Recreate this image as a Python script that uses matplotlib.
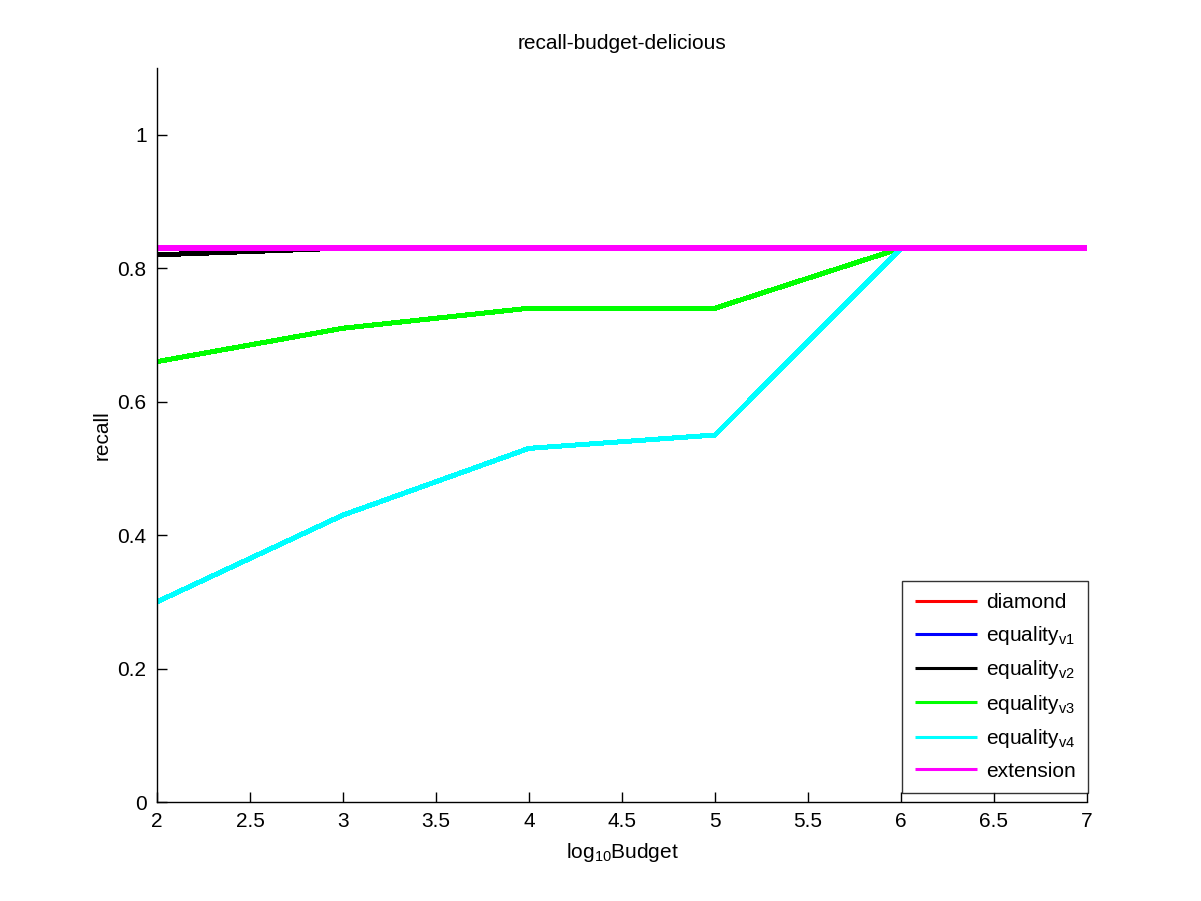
import matplotlib
matplotlib.use("Agg")
import matplotlib.pyplot as plt

plt.rcParams['font.family'] = ['Liberation Sans', 'DejaVu Sans']
plt.rcParams['mathtext.fontset'] = 'custom'
plt.rcParams['mathtext.rm'] = 'Liberation Sans'

x = [2, 3, 4, 5, 6, 7]
diamond = [0.83, 0.83, 0.83, 0.83, 0.83, 0.83]
equality_v1 = [0.83, 0.83, 0.83, 0.83, 0.83, 0.83]
equality_v2 = [0.82, 0.83, 0.83, 0.83, 0.83, 0.83]
equality_v3 = [0.66, 0.71, 0.74, 0.74, 0.83, 0.83]
equality_v4 = [0.30, 0.43, 0.53, 0.55, 0.83, 0.83]
extension = [0.83, 0.83, 0.83, 0.83, 0.83, 0.83]

series = [
    (diamond, 'diamond', '#ff0000'),
    (equality_v1, r'equality$\mathregular{_{v1}}$', '#0000ff'),
    (equality_v2, r'equality$\mathregular{_{v2}}$', '#000000'),
    (equality_v3, r'equality$\mathregular{_{v3}}$', '#00ff00'),
    (equality_v4, r'equality$\mathregular{_{v4}}$', '#00ffff'),
    (extension, 'extension', '#ff00ff'),
]

xticks = [2, 2.5, 3, 3.5, 4, 4.5, 5, 5.5, 6, 6.5, 7]
xticklabels = ['2', '2.5', '3', '3.5', '4', '4.5', '5', '5.5', '6', '6.5', '7']
yticks = [0, 0.2, 0.4, 0.6, 0.8, 1]
yticklabels = ['0', '0.2', '0.4', '0.6', '0.8', '1']

FS = 15

fig = plt.figure(figsize=(12.01, 9.01), dpi=100)
ax = fig.add_axes([157/1201, (901-802)/901, (1087-157)/1201, (802-68)/901])

for vals, lab, col in series:
    ax.plot(x, vals, color=col, lw=2.9, label=lab, solid_capstyle='butt',
            antialiased=False)

ax.set_xlim(2, 7)
ax.set_ylim(0, 1.1)
ax.set_xticks(xticks)
ax.set_xticklabels(xticklabels)
ax.set_yticks(yticks)
ax.set_yticklabels(yticklabels)
ax.tick_params(direction='in', length=7, width=1, labelsize=FS, pad=7.5)
ax.spines['top'].set_visible(False)
ax.spines['right'].set_visible(False)
for s in ['left', 'bottom']:
    ax.spines[s].set_linewidth(1)

ax.set_title('recall-budget-delicious', fontsize=FS, pad=14)
ax.set_xlabel(r'log$\mathregular{_{10}}$Budget', fontsize=FS, labelpad=7)
ax.set_ylabel('recall', fontsize=FS, labelpad=4)

leg = ax.legend(loc='lower right', bbox_to_anchor=(1.001, 0.012), borderaxespad=0,
                fontsize=FS, frameon=True, fancybox=False, handlelength=3.0,
                handletextpad=0.4, labelspacing=0.55, borderpad=0.6)
leg.get_frame().set_edgecolor('black')
leg.get_frame().set_linewidth(1)
for h in leg.get_lines():
    h.set_linewidth(2.2)

fig.savefig('out.png', dpi=100)
